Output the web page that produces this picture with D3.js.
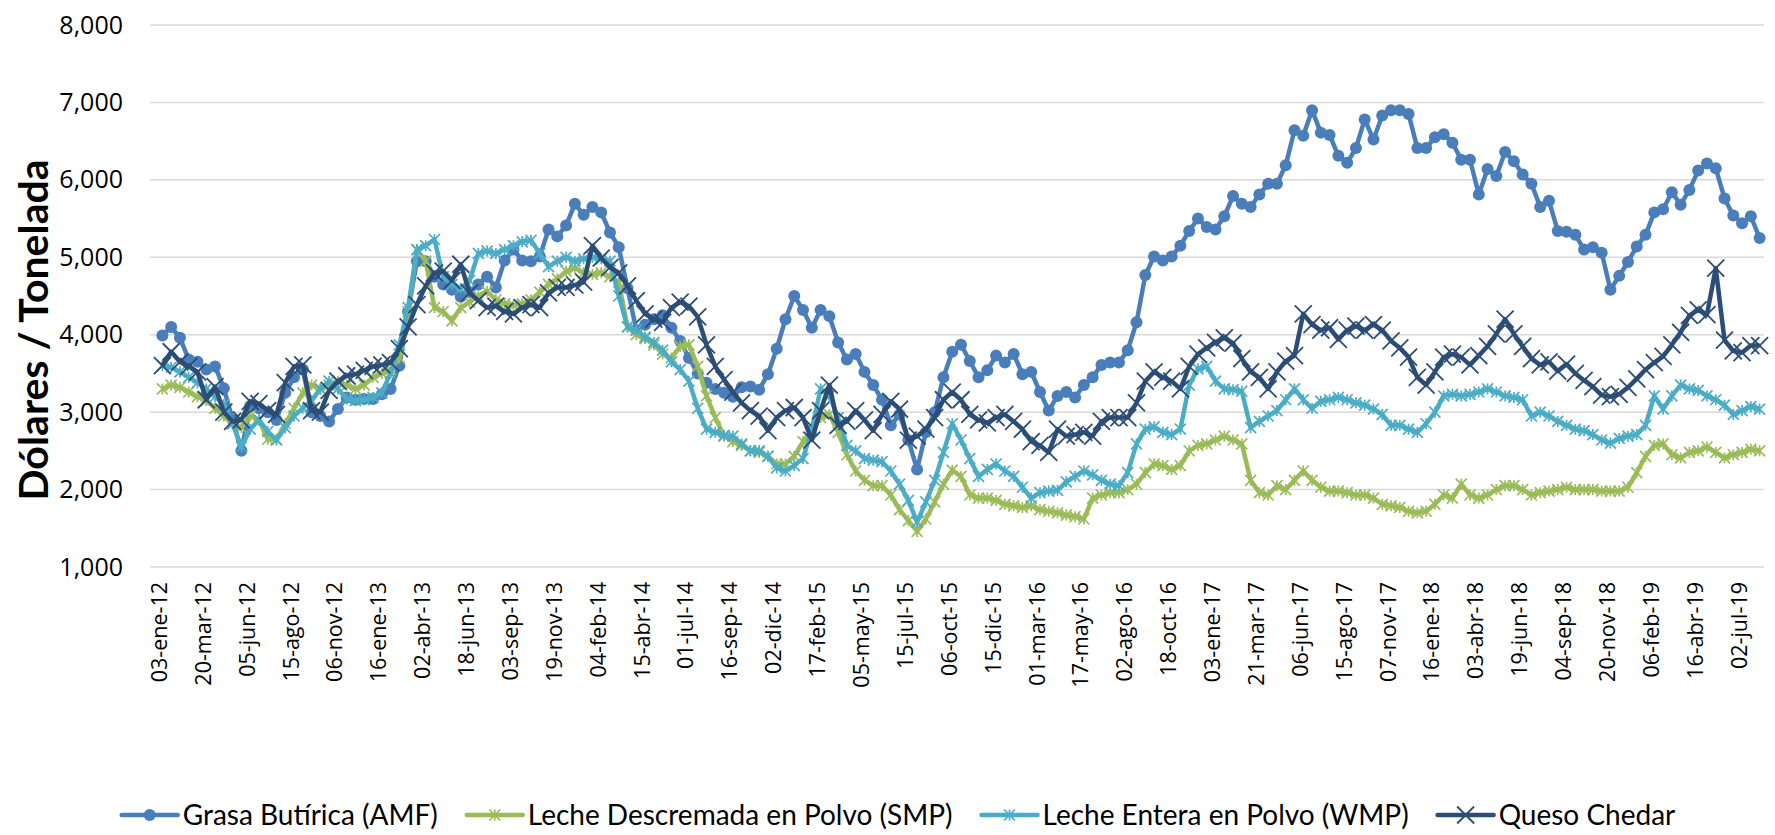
<!DOCTYPE html>
<html>
<head>
<meta charset="utf-8">
<script src="https://cdn.jsdelivr.net/npm/d3@7"></script>
<style>
  body { margin: 0; background: #fff; }
  svg { display: block; }
</style>
</head>
<body>
<svg id="chart" width="1775" height="835"></svg>
<script>
// labels every 5th auction
const tickLabels = ["03-ene-12","20-mar-12","05-jun-12","15-ago-12","06-nov-12","16-ene-13","02-abr-13","18-jun-13","03-sep-13","19-nov-13","04-feb-14","15-abr-14","01-jul-14","16-sep-14","02-dic-14","17-feb-15","05-may-15","15-jul-15","06-oct-15","15-dic-15","01-mar-16","17-may-16","02-ago-16","18-oct-16","03-ene-17","21-mar-17","06-jun-17","15-ago-17","07-nov-17","16-ene-18","03-abr-18","19-jun-18","04-sep-18","20-nov-18","06-feb-19","16-abr-19","02-jul-19"];

const amf = [3990,4100,3960,3680,3650,3550,3590,3310,2900,2500,3080,3050,3000,2900,3250,3450,3550,3000,2950,2880,
  3040,3190,3160,3170,3170,3230,3300,3600,4300,4950,4950,4750,4650,4580,4490,4550,4650,4750,4610,4960,
  5100,4960,4950,5010,5360,5270,5410,5690,5550,5650,5580,5320,5130,4600,4060,4130,4200,4250,4090,3920,
  3700,3500,3380,3300,3250,3200,3320,3330,3290,3490,3820,4200,4500,4320,4090,4320,4240,3900,3680,3750,
  3520,3350,3160,2830,2970,2640,2260,2740,3000,3450,3780,3870,3660,3450,3540,3730,3640,3750,3490,3520,
  3260,3020,3210,3260,3190,3350,3450,3610,3640,3640,3800,4160,4770,5010,4960,5010,5150,5340,5500,5390,
  5360,5530,5790,5690,5650,5810,5950,5950,6190,6640,6570,6900,6610,6580,6310,6220,6410,6780,6520,6830,
  6900,6900,6850,6410,6410,6550,6590,6480,6260,6260,5810,6140,6050,6360,6240,6070,5950,5650,5730,5340,
  5330,5290,5100,5130,5060,4580,4760,4940,5140,5290,5580,5620,5840,5680,5870,6120,6210,6150,5760,5540,
  5440,5530,5250];

const smp = [3300,3350,3320,3260,3200,3150,3050,2950,2850,2800,2950,2900,2650,2650,2850,3050,3250,3350,3300,3350,
  3400,3350,3300,3350,3450,3500,3550,3700,4300,5100,4950,4350,4300,4180,4350,4420,4500,4560,4450,4400,
  4380,4400,4450,4550,4650,4720,4820,4860,4800,4780,4800,4750,4680,4100,4000,3950,3870,3750,3700,3850,
  3870,3590,3210,2930,2690,2620,2570,2500,2480,2430,2330,2330,2430,2620,2760,2930,2970,2740,2450,2240,
  2120,2050,2050,1930,1740,1600,1460,1620,1840,2070,2250,2170,1930,1890,1890,1860,1810,1790,1770,1790,
  1740,1720,1700,1670,1650,1620,1890,1930,1960,1960,2000,2070,2220,2330,2310,2260,2310,2500,2570,2590,
  2640,2690,2640,2590,2120,1960,1930,2050,2000,2120,2240,2120,2030,1980,1980,1960,1930,1930,1890,1810,
  1790,1770,1720,1700,1720,1810,1930,1890,2070,1930,1890,1930,2000,2050,2050,2000,1930,1960,1980,2000,
  2030,2000,2000,2000,1980,1980,1980,2030,2220,2430,2570,2590,2450,2410,2480,2500,2550,2480,2410,2450,
  2480,2520,2500];

const wmp = [3600,3580,3520,3450,3380,3300,3200,3100,2850,2550,2780,2900,2750,2640,2800,2950,3050,3150,3300,3400,
  3300,3170,3150,3160,3190,3250,3500,3870,4350,5100,5150,5230,4750,4650,4600,4700,5050,5080,5050,5100,
  5150,5200,5220,5050,4880,4950,5000,4950,4980,5000,4980,4950,4500,4100,4060,3970,3900,3800,3650,3550,
  3400,3050,2780,2740,2700,2690,2590,2500,2500,2430,2280,2240,2310,2400,2780,3300,3210,2930,2570,2500,
  2400,2380,2360,2240,2070,1860,1580,1840,2120,2480,2850,2640,2400,2170,2260,2330,2240,2170,2030,1890,
  1960,1980,1990,2100,2170,2240,2190,2120,2070,2050,2220,2590,2780,2810,2740,2710,2780,3350,3560,3590,
  3400,3300,3290,3270,2800,2880,2950,3020,3160,3300,3160,3050,3140,3160,3190,3160,3120,3090,3040,2970,
  2830,2830,2780,2740,2850,3000,3210,3230,3210,3230,3260,3300,3260,3210,3190,3160,2950,3000,2950,2880,
  2830,2780,2760,2710,2640,2600,2660,2690,2710,2830,3210,3040,3210,3350,3300,3280,3210,3160,3090,2970,
  3020,3070,3040];

const cheddar = [3600,3780,3650,3590,3520,3160,3330,3000,2880,2900,3140,3110,3020,2970,3380,3590,3610,3020,3000,3280,
  3400,3470,3490,3540,3590,3610,3640,3820,4100,4390,4630,4800,4820,4700,4910,4540,4440,4350,4370,4300,
  4270,4350,4390,4350,4540,4610,4610,4640,4680,5150,4990,4870,4800,4630,4440,4270,4200,4160,4350,4420,
  4370,4230,3870,3590,3420,3260,3120,3020,2950,2760,2930,3020,3060,2930,2640,3020,3350,2830,2880,3020,
  2900,2760,2970,3140,3040,2640,2690,2780,2930,3160,3260,3160,2970,2900,2860,2930,2970,2880,2780,2620,
  2570,2480,2780,2690,2710,2740,2690,2880,2930,2930,2930,3120,3400,3520,3450,3400,3300,3590,3750,3830,
  3900,3960,3890,3690,3520,3450,3300,3520,3660,3730,4270,4130,4060,4090,3940,4060,4110,4060,4130,4060,
  3920,3830,3710,3450,3350,3520,3710,3750,3710,3610,3730,3850,4010,4200,4010,3850,3690,3610,3650,3530,
  3620,3500,3410,3330,3220,3200,3230,3320,3430,3550,3640,3720,3870,4030,4250,4320,4260,4860,3930,3790,
  3770,3860,3860];

const series = [
  { name: "Grasa Butírica (AMF)", values: amf, color: "#4a7ebb", marker: "circle" },
  { name: "Leche Descremada en Polvo (SMP)", values: smp, color: "#9bbb59", marker: "star" },
  { name: "Leche Entera en Polvo (WMP)", values: wmp, color: "#4bacc6", marker: "star" },
  { name: "Queso Chedar", values: cheddar, color: "#2c4d75", marker: "x" }
];

const width = 1775;
const margin = { top: 25, right: 11, bottom: 268, left: 158 };
const plotBottom = 835 - margin.bottom;

const svg = d3.select("#chart");

const x = d3.scaleBand(d3.range(amf.length), [margin.left, width - margin.right]);
const cx = i => x(i) + x.bandwidth() / 2;
const y = d3.scaleLinear([1000, 8000], [plotBottom, margin.top]);

// gridlines
svg.append("g")
  .selectAll("line")
  .data(y.ticks(7))
  .join("line")
    .attr("x1", margin.left - 8)
    .attr("x2", width - margin.right)
    .attr("y1", d => y(d))
    .attr("y2", d => y(d))
    .attr("stroke", "#d9d9d9")
    .attr("stroke-width", 1.5);

svg.append("g")
  .attr("transform", `translate(${margin.left},0)`)
  .call(d3.axisLeft(y).ticks(7).tickFormat(d3.format(",")).tickSize(0).tickPadding(35))
  .call(g => g.select(".domain").remove())
  .selectAll("text")
    .attr("font-family", "'Open Sans', sans-serif")
    .attr("font-size", 25)
    .attr("fill", "#000");

svg.append("g")
  .attr("transform", `translate(0,${plotBottom})`)
  .call(d3.axisBottom(x)
    .tickValues(d3.range(0, amf.length, 5))
    .tickFormat(i => tickLabels[i / 5])
    .tickSize(0))
  .call(g => g.select(".domain").remove())
  .selectAll("text")
    .attr("font-family", "'Open Sans', sans-serif")
    .attr("font-size", 21.5)
    .attr("fill", "#000")
    .attr("text-anchor", "end")
    .attr("transform", "rotate(-90)")
    .attr("x", -15)
    .attr("y", -3)
    .attr("dy", "0.35em");

svg.append("text")
  .attr("transform", `translate(34,${(margin.top + plotBottom) / 2 + 34}) rotate(-90)`)
  .attr("text-anchor", "middle")
  .attr("dy", "0.35em")
  .attr("font-family", "Lato, sans-serif")
  .attr("font-weight", "bold")
  .attr("font-size", 41)
  .text("Dólares / Tonelada");

const markerPath = {
  star: s => `M${-s},${-s}L${s},${s}M${-s},${s}L${s},${-s}M0,${-s}L0,${s}`,
  x: s => `M${-s},${-s}L${s},${s}M${-s},${s}L${s},${-s}`
};
const markerSize = { star: 5.5, x: 8.5 };

function drawMarker(sel, s) {
  if (s.marker === "circle") {
    sel.append("circle").attr("r", 6).attr("fill", s.color);
  } else {
    sel.append("path")
      .attr("d", markerPath[s.marker](markerSize[s.marker]))
      .attr("fill", "none")
      .attr("stroke", s.color)
      .attr("stroke-width", s.marker === "x" ? 1.8 : 1.7);
  }
}

const line = d3.line()
  .x((d, i) => cx(i))
  .y(d => y(d));

series.forEach(s => {
  const g = svg.append("g");
  g.append("path")
    .attr("d", line(s.values))
    .attr("fill", "none")
    .attr("stroke", s.color)
    .attr("stroke-width", 4.5)
    .attr("stroke-linejoin", "round");
  g.selectAll("g")
    .data(s.values)
    .join("g")
      .attr("transform", (d, i) => `translate(${cx(i)},${y(d)})`)
      .each(function() { drawMarker(d3.select(this), s); });
});

// legend
const legend = svg.append("g");
const gap = 26;
let lx = 0;
series.forEach(s => {
  const item = legend.append("g").attr("transform", `translate(${lx},0)`);
  item.append("line")
    .attr("x1", 3).attr("x2", 59)
    .attr("stroke", s.color)
    .attr("stroke-width", 4.5)
    .attr("stroke-linecap", "round");
  drawMarker(item.append("g").attr("transform", "translate(31,0)"), s);
  const t = item.append("text")
    .attr("x", 64)
    .attr("dy", "0.35em")
    .attr("font-family", "Lato, sans-serif")
    .attr("font-size", 28)
    .text(s.name);
  lx += 64 + t.node().getComputedTextLength() + gap;
});
legend.attr("transform", `translate(${897 - (lx - gap) / 2},815)`);
</script>
</body>
</html>
